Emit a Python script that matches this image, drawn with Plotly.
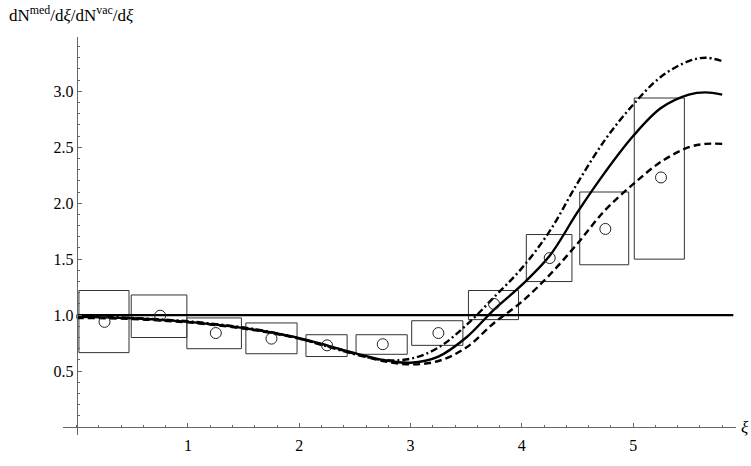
import plotly.graph_objects as go

# ---- data ----
curve_x = [0.0, 0.25, 0.5, 0.75, 1.0, 1.25, 1.5, 1.75, 2.0, 2.25, 2.5, 2.75, 3.0,
           3.25, 3.5, 3.75, 4.0, 4.25, 4.5, 4.75, 5.0, 5.25, 5.5, 5.65, 5.8]
solid_y = [0.985, 0.98, 0.972, 0.958, 0.94, 0.915, 0.885, 0.845, 0.795, 0.73, 0.66, 0.60, 0.575,
           0.63, 0.80, 1.05, 1.27, 1.53, 1.92, 2.28, 2.60, 2.85, 2.97, 2.99, 2.97]
dashdot_y = [0.99, 0.985, 0.975, 0.962, 0.945, 0.92, 0.89, 0.848, 0.79, 0.72, 0.65, 0.60, 0.61,
             0.71, 0.91, 1.16, 1.42, 1.75, 2.18, 2.57, 2.88, 3.13, 3.27, 3.30, 3.27]
dashed_y = [0.975, 0.972, 0.965, 0.952, 0.935, 0.91, 0.88, 0.84, 0.79, 0.725, 0.655, 0.59, 0.56,
            0.59, 0.71, 0.93, 1.12, 1.36, 1.64, 1.94, 2.17, 2.37, 2.50, 2.53, 2.53]

ref_x = [0.0, 5.9]
ref_y = [1.0, 1.0]

pt_x = [0.25, 0.75, 1.25, 1.75, 2.25, 2.75, 3.25, 3.75, 4.25, 4.75, 5.25]
pt_y = [0.94, 0.995, 0.84, 0.79, 0.73, 0.74, 0.84, 1.10, 1.51, 1.77, 2.23]
box_lo = [0.665, 0.80, 0.70, 0.655, 0.63, 0.65, 0.73, 0.96, 1.30, 1.45, 1.50]
box_hi = [1.22, 1.18, 0.975, 0.93, 0.825, 0.825, 0.95, 1.22, 1.72, 2.10, 2.94]
box_x0 = [0.02, 0.49, 0.99, 1.52, 2.06, 2.51, 3.01, 3.52, 4.04, 4.52, 5.01]
box_x1 = [0.47, 0.99, 1.48, 1.98, 2.43, 2.97, 3.47, 3.97, 4.45, 4.96, 5.46]

x_ticks = [1, 2, 3, 4, 5]
y_ticks = [0.5, 1.0, 1.5, 2.0, 2.5, 3.0]
x_minor = [0.2 * i for i in range(0, 30)]
y_minor = [0.1 * i for i in range(0, 35)]

FONT = "Liberation Serif"

fig = go.Figure()

# error boxes
bx, by = [], []
for a, b, lo, hi in zip(box_x0, box_x1, box_lo, box_hi):
    bx += [a, b, b, a, a, None]
    by += [lo, lo, hi, hi, lo, None]
fig.add_trace(go.Scatter(x=bx, y=by, mode="lines",
                         line=dict(color="#333333", width=1), hoverinfo="skip"))

# reference line
fig.add_trace(go.Scatter(x=ref_x, y=ref_y, mode="lines",
                         line=dict(color="black", width=2.2)))

# curves
fig.add_trace(go.Scatter(x=curve_x, y=dashdot_y, mode="lines", line_shape="spline",
                         line=dict(color="black", width=2.4, dash="7px,3px,2px,3px")))
fig.add_trace(go.Scatter(x=curve_x, y=dashed_y, mode="lines", line_shape="spline",
                         line=dict(color="black", width=2.4, dash="7px,4px")))
fig.add_trace(go.Scatter(x=curve_x, y=solid_y, mode="lines", line_shape="spline",
                         line=dict(color="black", width=2.4)))

# data points
fig.add_trace(go.Scatter(x=pt_x, y=pt_y, mode="markers",
                         marker=dict(symbol="circle-open", size=11,
                                     color="#222", line=dict(width=1, color="#222"))))

axis_col = "#666666"
fig.update_layout(
    width=751, height=466,
    margin=dict(l=63, r=15, t=37, b=13),
    paper_bgcolor="white", plot_bgcolor="white",
    showlegend=False,
    font=dict(family=FONT, size=16, color="black"),
    xaxis=dict(range=[-0.123, 5.924], showgrid=False, zeroline=False,
               showline=True, linecolor=axis_col, linewidth=1,
               anchor="free", position=0.02,
               tickmode="array", tickvals=x_ticks, ticktext=[str(v) for v in x_ticks],
               ticks="inside", ticklen=4, tickcolor=axis_col, tickwidth=1,
               ticklabelstandoff=4,
               tickfont=dict(family=FONT, size=16, color="black"),
               minor=dict(tickmode="array", tickvals=x_minor, ticks="inside",
                          ticklen=2.5, tickcolor=axis_col, tickwidth=1, showgrid=False)),
    yaxis=dict(range=[-0.071, 3.485], showgrid=False, zeroline=False,
               showline=True, linecolor=axis_col, linewidth=1,
               anchor="free", position=0.0203,
               tickmode="array", tickvals=y_ticks, ticktext=["%.1f" % v for v in y_ticks],
               ticks="inside", ticklen=4, tickcolor=axis_col, tickwidth=1,
               tickfont=dict(family=FONT, size=16, color="black"),
               minor=dict(tickmode="array", tickvals=y_minor, ticks="inside",
                          ticklen=2.5, tickcolor=axis_col, tickwidth=1, showgrid=False)),
)

fig.add_annotation(text="dN<sup>med</sup>/d<i>ξ</i>/dN<sup>vac</sup>/d<i>ξ</i>",
                   xref="paper", yref="paper", x=-0.083, y=1.058,
                   xanchor="left", yanchor="middle", showarrow=False,
                   font=dict(family=FONT, size=17, color="black"))
fig.add_annotation(text="<i>ξ</i>", xref="paper", yref="paper", x=1.0134, y=0.02,
                   xanchor="center", yanchor="middle", showarrow=False, borderpad=0,
                   font=dict(family=FONT, size=17, color="black"))

fig.write_html("out.html",
               config={"displayModeBar": False, "staticPlot": True},
               post_script="document.body.style.margin='0px';document.body.style.overflow='hidden';")
